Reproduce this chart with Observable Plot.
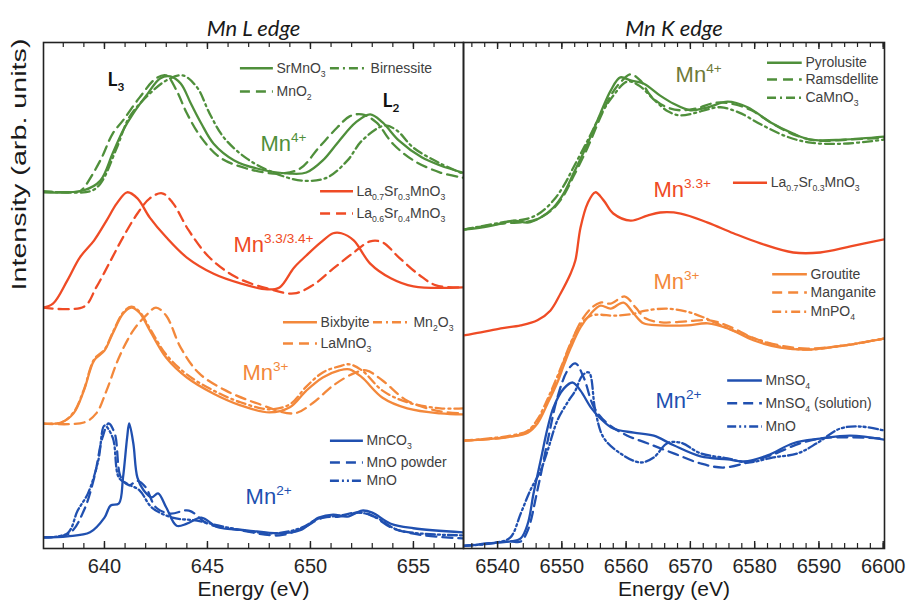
<!DOCTYPE html>
<html><head><meta charset="utf-8">
<script src="https://cdn.jsdelivr.net/npm/d3@7"></script>
<script src="https://cdn.jsdelivr.net/npm/@observablehq/plot@0.6"></script>
<style>
html,body{margin:0;padding:0;background:#fff;}
#chart{position:relative;width:908px;height:606px;overflow:hidden;background:#fff;}
#chart svg{position:absolute;top:0;overflow:visible;}
</style></head><body><div id="chart"></div>
<script>
// ---------- Mn L edge data: [energy eV, intensity arb.] ----------
const L_SrMnO3 = [[637.0,7.04],[639.0,7.08],[639.8,7.27],[640.4,7.81],[640.9,8.26],[641.4,8.60],[642.1,8.99],[642.7,9.29],[643.2,9.33],[643.7,9.19],[644.2,8.79],[644.7,8.40],[645.3,8.00],[646.3,7.67],[647.4,7.51],[649.0,7.41],[649.8,7.43],[650.6,7.67],[651.4,8.06],[652.2,8.42],[652.9,8.58],[653.5,8.42],[654.3,8.06],[655.4,7.73],[656.3,7.57],[657.4,7.43]];
const L_MnO2 = [[637.0,7.06],[638.8,7.06],[639.0,7.13],[639.8,7.67],[640.4,8.20],[640.9,8.46],[641.7,8.91],[642.5,9.29],[643.0,9.35],[643.5,9.05],[644.0,8.60],[644.7,8.12],[645.6,7.73],[646.9,7.51],[648.5,7.41],[649.5,7.51],[650.4,7.92],[651.3,8.32],[651.9,8.54],[652.5,8.58],[653.2,8.42],[654.0,8.00],[655.0,7.67],[656.3,7.43],[657.4,7.33]];
const L_Birnessite = [[637.0,7.06],[639.3,7.06],[639.8,7.21],[640.6,7.92],[641.2,8.52],[642.1,8.95],[643.0,9.25],[643.8,9.35],[644.5,9.11],[645.1,8.60],[645.8,8.12],[646.9,7.71],[648.2,7.43],[649.6,7.27],[650.8,7.33],[651.8,7.67],[652.5,8.06],[653.6,8.36],[654.2,8.26],[655.0,7.92],[656.3,7.61],[657.4,7.41]];
const L_LSMO73 = [[637.0,4.76],[637.5,4.84],[638.2,5.30],[638.8,5.75],[639.5,6.09],[640.1,6.48],[640.6,6.82],[641.1,7.04],[641.6,6.92],[642.2,6.54],[643.0,6.15],[644.0,5.75],[645.3,5.43],[646.6,5.24],[647.9,5.12],[648.5,5.16],[649.2,5.55],[649.8,5.79],[650.5,6.05],[651.1,6.23],[651.5,6.23],[652.1,6.09],[652.9,5.63],[653.9,5.34],[655.0,5.18],[657.4,5.16]];
const L_LSMO64 = [[637.0,4.76],[639.0,4.78],[639.6,5.16],[640.3,5.69],[640.9,6.15],[641.6,6.62],[642.2,6.92],[642.8,7.02],[643.3,6.84],[644.1,6.28],[645.1,5.75],[646.4,5.36],[647.9,5.14],[649.2,5.04],[650.1,5.20],[651.1,5.53],[652.1,5.85],[652.9,6.07],[653.5,6.05],[654.3,5.75],[655.3,5.40],[656.1,5.20],[657.4,5.16]];
const L_Bixbyite = [[637.0,2.47],[637.9,2.49],[638.5,2.67],[639.0,3.12],[639.5,3.72],[640.0,3.91],[640.4,4.25],[640.9,4.64],[641.3,4.76],[641.7,4.66],[642.2,4.31],[643.0,3.77],[644.0,3.38],[645.3,3.06],[646.6,2.83],[648.0,2.69],[649.0,2.79],[649.8,3.12],[650.6,3.38],[651.4,3.52],[651.9,3.54],[652.5,3.38],[653.5,2.98],[654.7,2.77],[656.3,2.67],[657.4,2.65]];
const L_Mn2O3 = [[637.0,2.47],[637.9,2.49],[638.5,2.69],[639.0,3.14],[639.5,3.74],[640.0,3.93],[640.4,4.27],[640.9,4.66],[641.3,4.78],[641.7,4.68],[642.2,4.35],[643.0,3.83],[644.0,3.44],[645.3,3.12],[646.6,2.89],[648.0,2.75],[649.0,2.85],[649.8,3.20],[650.6,3.48],[651.4,3.60],[651.9,3.64],[652.5,3.52],[653.5,3.12],[654.7,2.89],[656.3,2.77],[657.4,2.77]];
const L_LaMnO3 = [[637.0,2.47],[639.0,2.49],[639.6,2.67],[640.1,3.12],[640.7,3.77],[641.4,4.31],[642.1,4.64],[642.5,4.76],[643.0,4.60],[643.7,3.97],[644.6,3.46],[645.9,3.12],[647.4,2.87],[649.2,2.67],[650.1,2.87],[651.1,3.22],[652.1,3.46],[652.7,3.52],[653.5,3.32],[654.7,2.92],[656.3,2.71],[657.4,2.67]];
const L_MnCO3 = [[637.0,0.22],[638.2,0.24],[639.3,0.32],[640.0,0.61],[640.3,0.85],[640.7,0.89],[640.9,1.40],[641.1,2.19],[641.2,2.47],[641.4,2.08],[641.6,1.40],[641.9,1.15],[642.3,1.01],[642.6,1.09],[643.0,0.81],[643.5,0.45],[644.0,0.49],[644.7,0.61],[645.5,0.42],[646.9,0.36],[648.5,0.30],[649.5,0.36],[650.4,0.61],[651.1,0.67],[651.8,0.63],[652.5,0.75],[653.0,0.71],[653.9,0.49],[655.0,0.40],[657.4,0.32]];
const L_MnOpowder = [[637.0,0.22],[638.3,0.30],[639.0,0.75],[639.5,1.40],[639.9,2.19],[640.2,2.47],[640.5,2.27],[640.8,1.40],[641.2,1.25],[641.6,1.34],[642.0,1.21],[642.5,0.81],[643.2,0.69],[644.1,0.75],[645.0,0.49],[646.6,0.36],[648.5,0.26],[649.6,0.40],[650.6,0.61],[651.4,0.63],[652.4,0.71],[653.0,0.65],[654.0,0.40],[655.5,0.26],[657.4,0.20]];
const L_MnO = [[637.0,0.22],[638.2,0.30],[638.7,0.75],[639.2,1.09],[639.7,1.74],[640.0,2.43],[640.4,2.19],[640.7,1.40],[641.1,1.28],[641.7,1.15],[642.3,0.81],[643.3,0.61],[644.5,0.55],[645.9,0.42],[648.2,0.30],[649.5,0.40],[650.4,0.59],[651.4,0.65],[652.4,0.71],[653.2,0.61],[654.3,0.36],[657.4,0.26]];

// ---------- Mn K edge data ----------
const K_Pyrolusite = [[6534.7,6.30],[6537.4,6.34],[6540.5,6.42],[6542.5,6.48],[6544.7,6.44],[6546.7,6.54],[6548.7,6.74],[6550.3,7.02],[6551.8,7.41],[6554.0,8.00],[6556.0,8.60],[6557.6,9.05],[6559.1,9.31],[6560.7,9.25],[6562.7,9.19],[6565.3,8.95],[6567.4,8.79],[6570.0,8.66],[6572.7,8.72],[6575.8,8.83],[6578.9,8.72],[6582.5,8.42],[6586.0,8.20],[6588.7,8.08],[6593.8,8.08],[6600.2,8.14]];
const K_Ramsdellite = [[6534.7,6.30],[6540.5,6.42],[6544.7,6.46],[6546.7,6.54],[6548.7,6.72],[6550.3,6.98],[6551.8,7.35],[6554.0,7.92],[6556.0,8.52],[6557.6,8.95],[6559.1,9.21],[6560.7,9.37],[6562.2,9.25],[6563.8,8.95],[6566.0,8.74],[6568.4,8.66],[6571.0,8.70],[6573.9,8.81],[6576.5,8.79],[6579.5,8.66],[6583.0,8.38],[6586.5,8.16],[6590.0,8.06],[6594.5,8.08],[6600.2,8.12]];
const K_CaMnO3 = [[6534.7,6.30],[6540.5,6.44],[6544.7,6.52],[6546.7,6.64],[6548.7,6.88],[6550.3,7.17],[6551.8,7.53],[6554.0,8.06],[6556.0,8.56],[6558.0,8.95],[6560.2,9.23],[6562.0,9.15],[6564.5,8.85],[6566.5,8.64],[6568.3,8.56],[6570.5,8.60],[6572.7,8.68],[6574.7,8.72],[6577.5,8.62],[6581.0,8.38],[6585.0,8.14],[6588.7,8.02],[6593.8,8.00],[6600.2,8.08]];
const K_LSMO73 = [[6534.7,4.21],[6537.4,4.27],[6540.5,4.35],[6543.6,4.41],[6546.2,4.51],[6548.2,4.70],[6549.8,5.04],[6551.35,5.43],[6552.1,5.69],[6552.9,6.34],[6554.0,6.82],[6555.2,7.04],[6556.5,6.88],[6558.0,6.62],[6560.7,6.48],[6563.3,6.58],[6565.3,6.64],[6568.5,6.62],[6572.7,6.44],[6576.7,6.23],[6580.9,6.03],[6586.0,5.85],[6590.2,5.85],[6594.9,5.97],[6600.2,6.11]];
const K_Groutite = [[6534.7,2.13],[6539.4,2.17],[6542.0,2.21],[6544.7,2.29],[6546.2,2.47],[6547.8,2.87],[6549.3,3.28],[6550.3,3.62],[6551.4,3.97],[6552.9,4.37],[6554.5,4.64],[6556.0,4.80],[6557.6,4.74],[6559.6,4.86],[6561.2,4.64],[6562.7,4.45],[6565.3,4.41],[6569.5,4.41],[6572.7,4.45],[6575.8,4.35],[6579.9,4.11],[6584.0,3.97],[6588.2,3.93],[6593.8,4.01],[6600.2,4.15]];
const K_Manganite = [[6534.7,2.13],[6542.0,2.21],[6544.7,2.31],[6546.2,2.51],[6547.8,2.92],[6549.3,3.36],[6550.3,3.70],[6551.4,4.05],[6552.9,4.47],[6554.5,4.74],[6556.0,4.86],[6557.6,4.84],[6559.8,4.98],[6561.5,4.76],[6563.0,4.55],[6565.5,4.47],[6569.5,4.49],[6573.0,4.51],[6576.0,4.39],[6580.0,4.15],[6584.0,4.01],[6588.2,3.95],[6593.8,4.01],[6600.2,4.15]];
const K_MnPO4 = [[6534.7,2.13],[6542.0,2.23],[6544.7,2.33],[6546.2,2.55],[6547.8,2.96],[6549.3,3.40],[6550.3,3.72],[6551.4,4.07],[6552.9,4.43],[6554.5,4.60],[6556.0,4.62],[6558.0,4.60],[6561.2,4.64],[6563.0,4.70],[6566.4,4.74],[6569.5,4.68],[6572.0,4.57],[6575.5,4.37],[6580.0,4.15],[6584.0,3.99],[6588.2,3.93],[6593.8,4.01],[6600.2,4.15]];
const K_MnSO4 = [[6534.7,0.05],[6537.4,0.08],[6540.0,0.12],[6542.0,0.14],[6543.6,0.20],[6544.7,0.49],[6545.6,1.09],[6546.7,1.74],[6547.8,2.39],[6548.7,2.79],[6550.3,3.16],[6551.7,3.28],[6552.9,3.12],[6554.5,2.79],[6556.0,2.57],[6558.0,2.37],[6561.2,2.29],[6564.3,2.23],[6567.4,2.04],[6571.6,1.82],[6575.8,1.76],[6578.3,1.72],[6582.0,1.84],[6586.0,2.08],[6590.2,2.17],[6594.9,2.23],[6600.2,2.15]];
const K_MnSO4sol = [[6534.7,0.05],[6540.0,0.12],[6542.0,0.14],[6543.6,0.14],[6544.7,0.36],[6546.2,1.15],[6547.8,2.13],[6549.3,2.98],[6550.9,3.52],[6552.1,3.66],[6553.4,3.38],[6555.0,2.79],[6557.1,2.47],[6560.2,2.23],[6563.3,2.08],[6567.4,1.88],[6571.6,1.68],[6575.1,1.60],[6578.9,1.70],[6582.9,1.86],[6587.1,2.08],[6591.3,2.19],[6600.2,2.17]];
const K_MnO = [[6534.7,0.05],[6540.0,0.12],[6542.0,0.22],[6543.6,0.69],[6545.1,1.15],[6546.7,1.54],[6547.8,1.94],[6549.3,2.53],[6550.9,2.89],[6552.1,3.12],[6553.2,3.42],[6554.2,3.48],[6555.2,2.73],[6556.5,2.19],[6559.1,1.88],[6562.2,1.70],[6564.3,1.80],[6566.4,2.08],[6568.5,2.09],[6571.6,1.88],[6575.8,1.78],[6578.9,1.70],[6582.9,1.80],[6586.7,1.88],[6589.8,2.09],[6593.3,2.37],[6596.5,2.41],[6600.2,2.33]];

// ---------- axes ----------
const lDomain = [637.04, 657.43];
const kDomain = [6534.7, 6600.2];
const lMajorTicks = [640, 645, 650, 655];
const kMajorTicks = [6540, 6550, 6560, 6570, 6580, 6590, 6600];
const lMinorTicks = d3.range(638, 658, 1);
const kMinorTicks = d3.range(6536, 6601, 2);
const yDomain = [0, 10];

// ---------- styles ----------
const C = {green: "#4f8f3b", red: "#ef4b25", orange: "#f3883b", blue: "#2050b0", olive: "#6f7a38", text: "#404040", axis: "#222"};
const DASH = {solid: null, dash: "10,6", dashdot: "9,4,2,4", dashdotdot: "9,3,2,3,2,3"};

const lCurves = [
  {pts: L_SrMnO3, c: C.green, d: "solid"}, {pts: L_MnO2, c: C.green, d: "dash"}, {pts: L_Birnessite, c: C.green, d: "dashdot"},
  {pts: L_LSMO73, c: C.red, d: "solid"}, {pts: L_LSMO64, c: C.red, d: "dash"},
  {pts: L_Bixbyite, c: C.orange, d: "solid"}, {pts: L_Mn2O3, c: C.orange, d: "dashdot"}, {pts: L_LaMnO3, c: C.orange, d: "dash"},
  {pts: L_MnCO3, c: C.blue, d: "solid"}, {pts: L_MnOpowder, c: C.blue, d: "dash"}, {pts: L_MnO, c: C.blue, d: "dashdotdot"}
];
const kCurves = [
  {pts: K_Pyrolusite, c: C.green, d: "solid"}, {pts: K_Ramsdellite, c: C.green, d: "dash"}, {pts: K_CaMnO3, c: C.green, d: "dashdot"},
  {pts: K_LSMO73, c: C.red, d: "solid"},
  {pts: K_Groutite, c: C.orange, d: "solid"}, {pts: K_Manganite, c: C.orange, d: "dash"}, {pts: K_MnPO4, c: C.orange, d: "dashdot"},
  {pts: K_MnSO4, c: C.blue, d: "solid"}, {pts: K_MnSO4sol, c: C.blue, d: "dash"}, {pts: K_MnO, c: C.blue, d: "dashdotdot"}
];

const lLegend = [
  {t: "SrMnO_{3}", c: C.green, d: "solid", x1: 646.6, x2: 648.2, tx: 648.35, y: 9.49},
  {t: "Birnessite", c: C.green, d: "dashdot", x1: 650.97, x2: 652.77, tx: 652.92, y: 9.49},
  {t: "MnO_{2}", c: C.green, d: "dash", x1: 646.6, x2: 648.2, tx: 648.35, y: 9.03},
  {t: "La_{0.7}Sr_{0.3}MnO_{3}", c: C.red, d: "solid", x1: 650.49, x2: 652.09, tx: 652.23, y: 7.06},
  {t: "La_{0.6}Sr_{0.4}MnO_{3}", c: C.red, d: "dash", x1: 650.49, x2: 652.09, tx: 652.23, y: 6.62},
  {t: "Bixbyite", c: C.orange, d: "solid", x1: 648.69, x2: 650.34, tx: 650.49, y: 4.47},
  {t: "Mn_{2}O_{3}", c: C.orange, d: "dashdot", x1: 653.06, x2: 654.86, tx: 655.0, y: 4.47},
  {t: "LaMnO_{3}", c: C.orange, d: "dash", x1: 648.69, x2: 650.34, tx: 650.49, y: 4.05},
  {t: "MnCO_{3}", c: C.blue, d: "solid", x1: 650.97, x2: 652.57, tx: 652.72, y: 2.13},
  {t: "MnO powder", c: C.blue, d: "dash", x1: 650.97, x2: 652.57, tx: 652.72, y: 1.70},
  {t: "MnO", c: C.blue, d: "dashdotdot", x1: 650.97, x2: 652.57, tx: 652.72, y: 1.34}
];
const kLegend = [
  {t: "Pyrolusite", c: C.green, d: "solid", x1: 6582.0, x2: 6587.4, tx: 6587.9, y: 9.60},
  {t: "Ramsdellite", c: C.green, d: "dash", x1: 6582.0, x2: 6587.4, tx: 6587.9, y: 9.27},
  {t: "CaMnO_{3}", c: C.green, d: "dashdot", x1: 6582.0, x2: 6587.4, tx: 6587.9, y: 8.91},
  {t: "La_{0.7}Sr_{0.3}MnO_{3}", c: C.red, d: "solid", x1: 6576.7, x2: 6582.0, tx: 6582.5, y: 7.23},
  {t: "Groutite", c: C.orange, d: "solid", x1: 6582.8, x2: 6588.2, tx: 6588.7, y: 5.42},
  {t: "Manganite", c: C.orange, d: "dash", x1: 6582.8, x2: 6588.2, tx: 6588.7, y: 5.06},
  {t: "MnPO_{4}", c: C.orange, d: "dashdot", x1: 6582.8, x2: 6588.2, tx: 6588.7, y: 4.68},
  {t: "MnSO_{4}", c: C.blue, d: "solid", x1: 6575.8, x2: 6581.2, tx: 6581.7, y: 3.32},
  {t: "MnSO_{4} (solution)", c: C.blue, d: "dash", x1: 6575.8, x2: 6581.2, tx: 6581.7, y: 2.87},
  {t: "MnO", c: C.blue, d: "dashdotdot", x1: 6575.8, x2: 6581.2, tx: 6581.7, y: 2.41}
];
const lLabels = [
  {t: "Mn^{4+}", c: C.green, x: 647.57, y: 8.00},
  {t: "Mn^{3.3/3.4+}", c: C.red, x: 646.26, y: 5.99},
  {t: "Mn^{3+}", c: C.orange, x: 646.7, y: 3.46},
  {t: "Mn^{2+}", c: C.blue, x: 646.85, y: 1.01}
];
const kLabels = [
  {t: "Mn^{4+}", c: C.olive, x: 6567.7, y: 9.35},
  {t: "Mn^{3.3+}", c: C.red, x: 6564.26, y: 7.08},
  {t: "Mn^{3+}", c: C.orange, x: 6564.26, y: 5.26},
  {t: "Mn^{2+}", c: C.blue, x: 6564.57, y: 2.92}
];
const edgeLabels = [{t: "L_{3}", x: 640.15, y: 9.27}, {t: "L_{2}", x: 653.5, y: 8.85}];

const FONT = "'Liberation Sans', Arial, sans-serif";
const H = 606, MT = 42, MB = 58, INNER = H - MT - MB;

function panel({width, ml, mr, domain, major, minor, curves, legend, labels, title, extra = []}) {
  return Plot.plot({
    width, height: H, marginLeft: ml, marginRight: mr, marginTop: MT, marginBottom: MB,
    style: {fontFamily: FONT, background: "transparent", overflow: "visible"},
    x: {domain, axis: null},
    y: {domain: yDomain, axis: null},
    marks: [
      ...curves.map(s => Plot.line(s.pts, {x: d => d[0], y: d => d[1], stroke: s.c, strokeWidth: 2.3, strokeDasharray: DASH[s.d], curve: "catmull-rom", clip: true})),
      ...legend.map(l => Plot.ruleY([l], {y: "y", x1: "x1", x2: "x2", stroke: l.c, strokeWidth: 2.5, strokeDasharray: DASH[l.d]})),
      Plot.text(legend, {x: "tx", y: "y", text: "t", textAnchor: "start", fill: C.text, fontSize: 14}),
      ...labels.map(l => Plot.text([l], {x: "x", y: "y", text: "t", textAnchor: "start", fill: l.c, fontSize: 22})),
      ...extra,
      Plot.tickX(minor, {x: d => d, insetTop: INNER - 5, stroke: C.axis, strokeWidth: 1.2}),
      Plot.tickX(minor, {x: d => d, insetBottom: INNER - 5, stroke: C.axis, strokeWidth: 1.2}),
      Plot.tickX(major, {x: d => d, insetTop: INNER - 7, stroke: C.axis, strokeWidth: 1.4}),
      Plot.tickX(major, {x: d => d, insetBottom: INNER - 7, stroke: C.axis, strokeWidth: 1.4}),
      Plot.axisX(major, {tickSize: 0, tickPadding: 10, fontSize: 20, fill: "#262626", label: null, tickFormat: d => String(d)}),
      Plot.frame({stroke: C.axis, strokeWidth: 1.6}),
      Plot.text([title], {frameAnchor: "top", dy: -22, fontSize: 22, fontStyle: "italic", fontFamily: "Lato, 'Open Sans', sans-serif", fill: "#1a1a1a"}),
      Plot.text(["Energy (eV)"], {frameAnchor: "bottom", dy: 47, fontSize: 21, fill: "#1a1a1a"})
    ]
  });
}

const left = panel({
  width: 470, ml: 43, mr: 7, domain: lDomain, major: lMajorTicks, minor: lMinorTicks,
  curves: lCurves, legend: lLegend, labels: lLabels, title: "Mn L edge",
  extra: [
    Plot.text(edgeLabels, {x: "x", y: "y", text: "t", textAnchor: "start", fontWeight: "bold", fontSize: 19, fill: "#111", fontFamily: "Lato, 'Liberation Sans', sans-serif"}),
    Plot.text(["Intensity (arb. units)"], {frameAnchor: "left", dx: -24, dy: -5, rotate: -90, fontSize: 21, fill: "#1a1a1a"})
  ]
});
const right = panel({
  width: 488, ml: 43, mr: 24, domain: kDomain, major: kMajorTicks, minor: kMinorTicks,
  curves: kCurves, legend: kLegend, labels: kLabels, title: "Mn K edge"
});

const root = document.getElementById("chart");
left.style.left = "0px";
right.style.left = "420px";
root.appendChild(left);
root.appendChild(right);

function richify(svg) {
  svg.querySelectorAll("text").forEach(t => {
    const s = t.textContent;
    if (s === "Intensity (arb. units)") { t.setAttribute("textLength", 252); t.setAttribute("lengthAdjust", "spacingAndGlyphs"); }
    if (!/[_^]\{/.test(s)) return;
    const fs = parseFloat(getComputedStyle(t).fontSize) || 14;
    const parts = s.split(/([_^]\{[^}]*\})/).filter(p => p.length);
    while (t.firstChild) t.removeChild(t.firstChild);
    let shift = 0;
    parts.forEach(p => {
      const ts = document.createElementNS("http://www.w3.org/2000/svg", "tspan");
      let target = 0, txt = p, small = false;
      if (p.startsWith("_{")) { target = fs * 0.28; txt = p.slice(2, -1); small = true; }
      else if (p.startsWith("^{")) { target = -fs * 0.42; txt = p.slice(2, -1); small = true; }
      if (target !== shift) { ts.setAttribute("dy", target - shift); shift = target; }
      if (small) ts.setAttribute("font-size", (fs * 0.62).toFixed(1));
      ts.textContent = txt;
      t.appendChild(ts);
    });
  });
}
richify(left); richify(right);
</script></body></html>
